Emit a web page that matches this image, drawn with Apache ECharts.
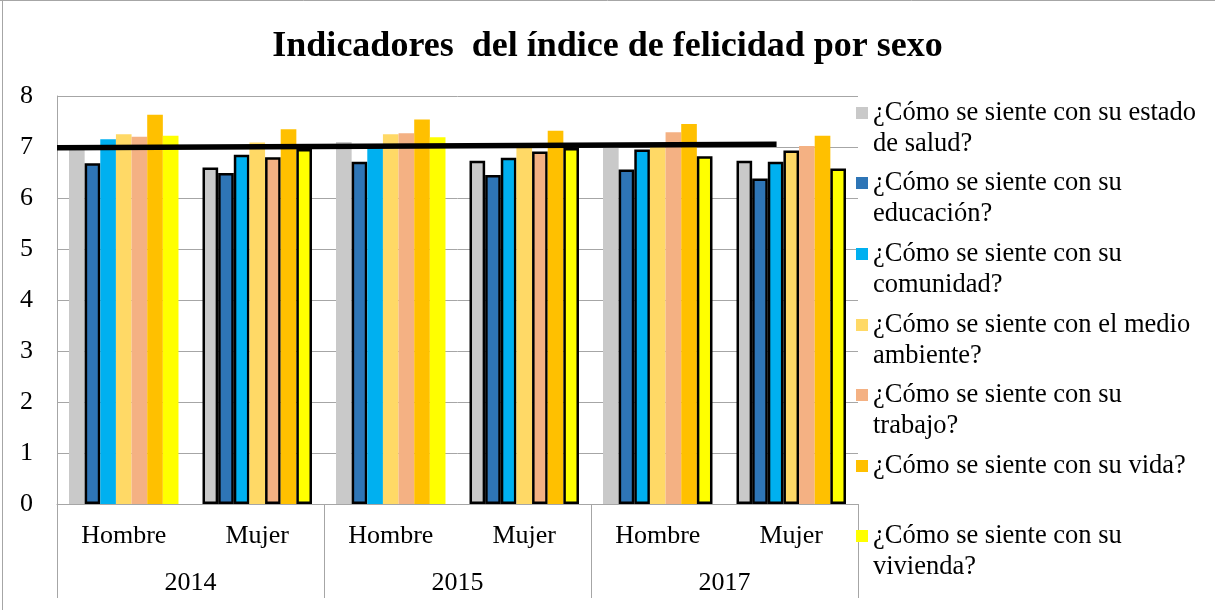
<!DOCTYPE html>
<html>
<head>
<meta charset="utf-8">
<script src="https://cdn.jsdelivr.net/npm/echarts@6/dist/echarts.min.js"></script>
<style>
html,body{margin:0;padding:0;background:#fff;}
#chart{width:1215px;height:610px;}
</style>
</head>
<body>
<div id="chart"></div>
<script>
// ---- data ----
const years = ['2014', '2015', '2017'];
const sexes = ['Hombre', 'Mujer'];
const seriesNames = [
  '¿Cómo se siente con su estado de salud?',
  '¿Cómo se siente con su educación?',
  '¿Cómo se siente con su comunidad?',
  '¿Cómo se siente con el medio ambiente?',
  '¿Cómo se siente con su trabajo?',
  '¿Cómo se siente con su vida?',
  '¿Cómo se siente con su vivienda?'
];
const legendLabels = [
  ['¿Cómo se siente con su estado', 'de salud?'],
  ['¿Cómo se siente con su', 'educación?'],
  ['¿Cómo se siente con su', 'comunidad?'],
  ['¿Cómo se siente con el medio', 'ambiente?'],
  ['¿Cómo se siente con su', 'trabajo?'],
  ['¿Cómo se siente con su vida?'],
  ['¿Cómo se siente con su', 'vivienda?']
];
// order: Hombre 2014, Mujer 2014, Hombre 2015, Mujer 2015, Hombre 2017, Mujer 2017
const salud        = [6.97, 6.60, 7.10, 6.73, 7.02, 6.73];
const educacion    = [6.68, 6.49, 6.71, 6.45, 6.56, 6.38];
const comunidad    = [7.15, 6.85, 7.00, 6.79, 6.95, 6.71];
const medioAmbiente= [7.25, 7.09, 7.25, 6.98, 7.08, 6.93];
const trabajo      = [7.20, 6.80, 7.27, 6.91, 7.29, 7.02];
const vida         = [7.63, 7.35, 7.54, 7.32, 7.45, 7.22];
const vivienda     = [7.22, 6.96, 7.19, 6.98, 6.82, 6.58];
const seriesValues = [salud, educacion, comunidad, medioAmbiente, trabajo, vida, vivienda];
// trend line (x in category units, y value)
const trendLine = [[0, 6.986], [5.39, 7.053]];
const yTicks = [0, 1, 2, 3, 4, 5, 6, 7, 8];

// ---- styles ----
const colors = ['#c9c9c9', '#2e75b6', '#00b0f0', '#ffd966', '#f4b183', '#ffc000', '#ffff00'];
// which bars (by category index) carry a black outline, per series
const outlined = [[1, 3, 5], [0, 1, 2, 3, 4, 5], [1, 3, 4, 5], [5], [1, 3], [], [1, 3, 4, 5]];
const FONT = '"Liberation Serif", "Times New Roman", serif';
const legendIconCenters = [113, 183, 254, 325, 395, 466, 536];
const LH = 31;

const cats = [];
years.forEach(y => sexes.forEach(s => cats.push(s)));

const series = seriesValues.map((vals, si) => ({
  type: 'bar',
  name: seriesNames[si],
  xAxisIndex: 0,
  barGap: '0%',
  barCategoryGap: '18%',
  itemStyle: { color: colors[si] },
  emphasis: { disabled: true },
  data: vals.map((v, ci) => outlined[si].indexOf(ci) >= 0
    ? { value: v, itemStyle: { borderColor: '#000', borderWidth: 2.5 } }
    : { value: v })
}));
series.push({
  type: 'line',
  name: 'trend',
  xAxisIndex: 2,
  data: trendLine,
  symbol: 'none',
  z: 10,
  lineStyle: { color: '#000', width: 5.5 },
  silent: true
});

const legends = seriesNames.map((n, i) => {
  const lines = legendLabels[i];
  const twoLine = lines.length > 1;
  // a leading blank line keeps the icon level with the first text line
  const text = twoLine ? ' \n' + lines.join('\n') : lines[0];
  return {
    data: [n],
    orient: 'vertical',
    left: 856,
    top: legendIconCenters[i] - (twoLine ? 1.5 * LH : 0.5 * LH),
    padding: 0,
    itemWidth: 12,
    itemHeight: 12,
    icon: 'rect',
    selectedMode: false,
    formatter: () => text,
    textStyle: { fontFamily: FONT, fontSize: 26.5, color: '#000', lineHeight: LH }
  };
});

const option = {
  animation: false,
  backgroundColor: '#fff',
  title: {
    text: 'Indicadores  del índice de felicidad por sexo',
    left: 'center',
    top: 24,
    textStyle: { fontFamily: FONT, fontSize: 36, fontWeight: 'bold', color: '#000' }
  },
  legend: legends,
  grid: { left: 57, right: 357, top: 96, bottom: 106, containLabel: false },
  xAxis: [
    {
      type: 'category', data: cats, position: 'bottom',
      axisLine: { show: true, lineStyle: { color: '#a6a6a6', width: 1 } },
      axisTick: { show: false },
      axisLabel: { fontFamily: FONT, fontSize: 26, color: '#000', margin: 19, interval: 0 }
    },
    {
      type: 'category', data: years, position: 'bottom',
      axisLine: { show: false },
      axisTick: { show: true, length: 94, lineStyle: { color: '#a6a6a6', width: 1 } },
      axisLabel: { fontFamily: FONT, fontSize: 26, color: '#000', margin: 66, interval: 0 }
    },
    { type: 'value', min: 0, max: 6, show: false }
  ],
  yAxis: {
    type: 'value', min: 0, max: 8, interval: 1,
    axisLine: { show: true, lineStyle: { color: '#a6a6a6' } },
    axisTick: { show: false },
    splitLine: { lineStyle: { color: '#a6a6a6', width: 1 } },
    axisLabel: {
      fontFamily: FONT, fontSize: 26, color: '#000', margin: 24,
      formatter: v => yTicks.indexOf(v) >= 0 ? String(v) : ''
    }
  },
  graphic: [
    { type: 'line', shape: { x1: 0, y1: 0.5, x2: 1215, y2: 0.5 }, style: { stroke: '#a6a6a6', lineWidth: 1 } },
    { type: 'line', shape: { x1: 2.5, y1: 0, x2: 2.5, y2: 610 }, style: { stroke: '#a6a6a6', lineWidth: 1 } }
  ],
  series: series
};

const chart = echarts.init(document.getElementById('chart'), null, { renderer: 'canvas' });
chart.setOption(option);
</script>
</body>
</html>
